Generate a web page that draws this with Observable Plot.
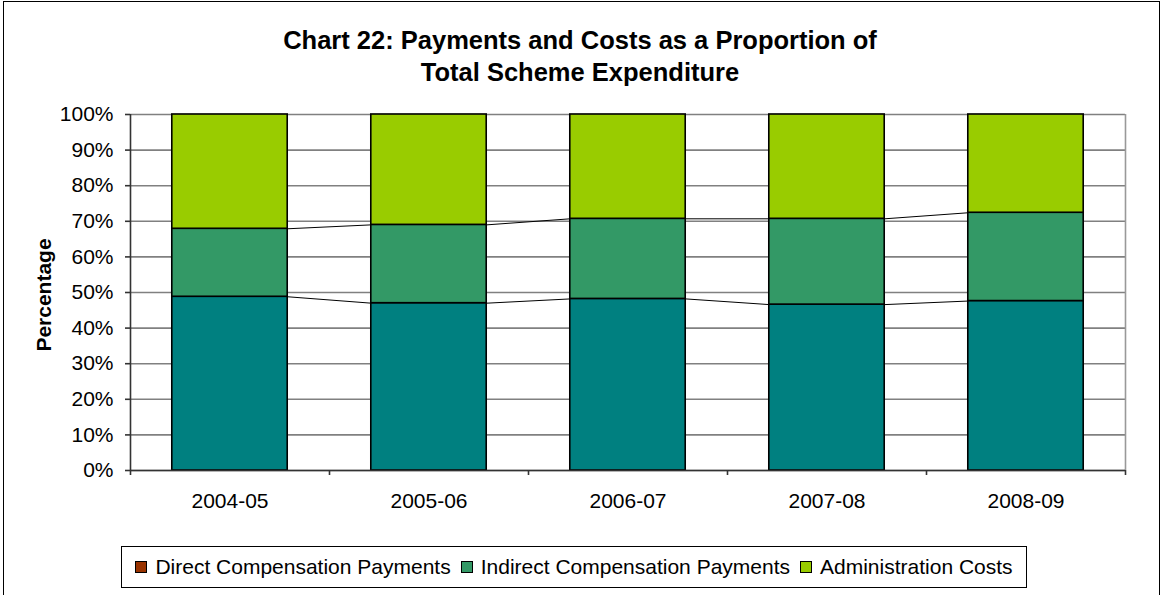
<!DOCTYPE html>
<html>
<head>
<meta charset="utf-8">
<script src="https://cdn.jsdelivr.net/npm/d3@7"></script>
<script src="https://cdn.jsdelivr.net/npm/@observablehq/plot@0.6"></script>
<style>
  html, body { margin: 0; padding: 0; background: #fff; }
  body { width: 1166px; height: 595px; overflow: hidden; position: relative; font-family: "Liberation Sans", Arial, sans-serif; }
  #frame { position: absolute; left: 3px; top: 1px; width: 1157px; height: 610px; border: 1.5px solid #000; box-sizing: border-box; }
  #title { position: absolute; left: 0px; width: 1160px; top: 24px; text-align: center; font-weight: bold; font-size: 25.5px; line-height: 32px; color: #000; }
  #ylabel { position: absolute; left: 44px; top: 295px; transform: translate(-50%, -50%) rotate(-90deg); font-weight: bold; font-size: 21px; white-space: nowrap; }
  #chart { position: absolute; left: 0; top: 95px; }
  #legend { position: absolute; left: 121px; top: 546px; width: 906px; height: 42px; border: 1px solid #000; box-sizing: border-box; display: flex; align-items: center; justify-content: center; font-size: 21px; }
  .item { display: flex; align-items: center; margin: 0 5px; white-space: nowrap; }
  .sw { width: 12px; height: 12px; border: 1px solid #000; margin-right: 8px; box-sizing: border-box; }
</style>
</head>
<body>
<div id="frame"></div>
<div id="title">Chart 22: Payments and Costs as a Proportion of<br>Total Scheme Expenditure</div>
<div id="ylabel">Percentage</div>
<div id="chart"></div>
<div id="legend"></div>
<script>
const years = ["2004-05", "2005-06", "2006-07", "2007-08", "2008-09"];
const seriesNames = ["Direct Compensation Payments", "Indirect Compensation Payments", "Administration Costs"];
const direct = [48.8, 47.0, 48.2, 46.6, 47.6];
const indirect = [19.1, 22.0, 22.5, 24.1, 24.8];
const admin = [32.1, 31.0, 29.3, 29.3, 27.6];
const yTicks = [0, 10, 20, 30, 40, 50, 60, 70, 80, 90, 100];

const barFills = ["#008080", "#339966", "#99CC00"];
const legendFills = ["#993300", "#339966", "#99CC00"];
const half = 0.29;

// build stacked rect table
const seriesVals = [direct, indirect, admin];
const rects = [];
const tops = [[], [], []];
years.forEach((yr, i) => {
  let base = 0;
  seriesVals.forEach((vals, s) => {
    const v = vals[i];
    rects.push({i, s, y1: base / 100, y2: (base + v) / 100});
    base += v;
    tops[s][i] = base / 100;
  });
});
// series lines between adjacent bars (first two series tops)
const links = [];
[0, 1].forEach(s => {
  for (let i = 0; i < years.length - 1; i++) {
    links.push({x1: i + half, x2: i + 1 - half, y1: tops[s][i], y2: tops[s][i + 1]});
  }
});

const n = years.length;
const boundaries = d3.range(n + 1).map(k => k - 0.5);

const chart = Plot.plot({
  width: 1166,
  height: 430,
  marginTop: 19,
  marginBottom: 55,
  marginLeft: 130,
  marginRight: 41,
  style: {fontFamily: "'Liberation Sans', Arial, sans-serif", fontSize: "21px", color: "#000", background: "transparent"},
  x: {type: "linear", domain: [-0.5, n - 0.5]},
  y: {domain: [0, 1]},
  marks: [
    Plot.ruleY(yTicks.map(t => t / 100), {stroke: "#808080", strokeWidth: 1.6}),
    Plot.ruleX([n - 0.5], {stroke: "#999", strokeWidth: 1.6}),
    Plot.link(links, {x1: "x1", x2: "x2", y1: "y1", y2: "y2", stroke: "#000", strokeWidth: 1}),
    Plot.rect(rects, {x1: d => d.i - half, x2: d => d.i + half, y1: "y1", y2: "y2", fill: d => barFills[d.s], stroke: "#000", strokeWidth: 1.6}),
    Plot.ruleX([-0.5], {stroke: "#333", strokeWidth: 1.6}),
    Plot.ruleY([0], {stroke: "#333", strokeWidth: 1.6}),
    Plot.axisY({ticks: yTicks.map(t => t / 100), tickFormat: d => Math.round(d * 100) + "%", tickSize: 5, tickPadding: 12, stroke: "#333", strokeWidth: 1.6, label: null, fontSize: "21px"}),
    Plot.axisX({ticks: boundaries, tickFormat: () => "", tickSize: 5, stroke: "#333", strokeWidth: 1.6, label: null}),
    Plot.axisX({ticks: d3.range(n), tickFormat: i => years[i], tickSize: 0, tickPadding: 23, label: null, fontSize: "21px"})
  ]
});
document.getElementById("chart").appendChild(chart);

const legend = document.getElementById("legend");
seriesNames.forEach((name, k) => {
  const item = document.createElement("div");
  item.className = "item";
  const sw = document.createElement("div");
  sw.className = "sw";
  sw.style.background = legendFills[k];
  const t = document.createElement("span");
  t.textContent = name;
  item.appendChild(sw);
  item.appendChild(t);
  legend.appendChild(item);
});
</script>
</body>
</html>
